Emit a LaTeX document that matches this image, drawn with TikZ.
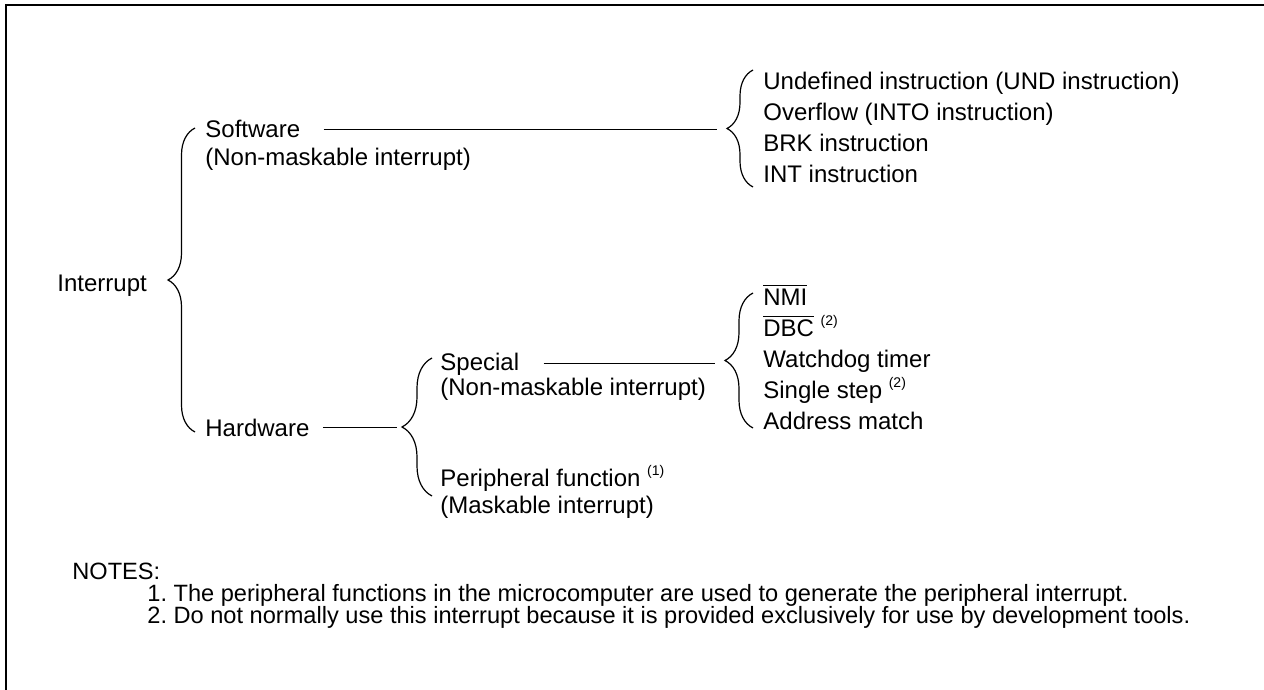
\documentclass[tikz,border=0pt]{standalone}
\usepackage{fontspec}
\setmainfont{Liberation Sans}
\usetikzlibrary{
  positioning,
  calc,
  decorations.pathreplacing
}
\newcommand{\barred}[1]{$\overline{\mbox{#1}}$}
\newcommand{\noteref}[1]{\ \raisebox{0.8ex}{\fontsize{7}{7}\selectfont(#1)}}
\tikzset{
  txt/.style={anchor=base west, inner sep=0pt, font=\fontsize{12}{15}\selectfont},
  notetxt/.style={anchor=base west, inner sep=0pt, font=\fontsize{11.8}{14}\selectfont},
  brc/.style={decorate, decoration={brace, amplitude=#1}, line width=0.6pt},
  link/.style={line width=0.6pt},
  frameline/.style={line width=1.4pt},
}

\begin{document}
\begin{tikzpicture}[x=0.5pt, y=-0.5pt]
  \useasboundingbox (0,0) rectangle (1264,690);
  \draw[frameline] (6,690) -- (6,5) -- (1264,5);

  %% ── Root ──────────────────────────────────────────────────────────────────
  \node[txt] (intr) at (57,291) {Interrupt};
  \coordinate (roottop) at (195,128);
  \coordinate (rootbot) at (195,432);
  \draw[brc=13.5pt] (rootbot) -- (roottop);

  %% ── Software branch ───────────────────────────────────────────────────────
  \node[txt] (sw)   at (205,138) {Software};
  \node[txt] (swnm) at (205,165) {(Non-maskable interrupt)};
  \coordinate (swtop) at (753,70);
  \coordinate (swbot) at (753,187);
  \coordinate (swtip) at ($(swtop)!0.5!(swbot)+(-26,0)$);
  \draw[brc=13pt] (swbot) -- (swtop);
  \foreach \t [count=\i] in {Undefined instruction (UND instruction),
      Overflow (INTO instruction), BRK instruction, INT instruction}
    \node[txt] (swi\i) at (763,{59+31*\i}) {\t};

  %% ── Hardware branch ───────────────────────────────────────────────────────
  \node[txt] (hw) at (205,436) {Hardware};
  \coordinate (hwtop) at (432,358);
  \coordinate (hwbot) at (432,496);
  \coordinate (hwtip) at ($(hwtop)!0.5!(hwbot)+(-30,0)$);
  \draw[brc=15pt] (hwbot) -- (hwtop);

  \node[txt] (sp)    at (440,370) {Special};
  \node[txt] (spnm)  at (440,395) {(Non-maskable interrupt)};
  \node[txt] (per)   at (440,486) {Peripheral function\noteref{1}};
  \node[txt] (pernm) at (440,513) {(Maskable interrupt)};

  \coordinate (sptop) at (753,293);
  \coordinate (spbot) at (753,428);
  \coordinate (sptip) at ($(sptop)!0.5!(spbot)+(-28,0)$);
  \draw[brc=14pt] (spbot) -- (sptop);
  \foreach \t [count=\i] in {\barred{NMI}, \barred{DBC}\noteref{2},
      Watchdog timer, Single step\noteref{2}, Address match}
    \node[txt] (spi\i) at (763,{274+31*\i}) {\t};

  %% ── Connectors ────────────────────────────────────────────────────────────
  \draw[link] ([xshift=11.5pt]sw.east) -- ([xshift=-5pt]sw.east -| swtip);
  \draw[link] ([xshift=6.5pt]hw.east)  -- ([xshift=-2.5pt]hw.east -| hwtip);
  \draw[link] ([xshift=12pt]sp.east)   -- ([xshift=-5pt]sp.east -| sptip);

  %% ── Notes ─────────────────────────────────────────────────────────────────
  \node[notetxt] (notes) at (72,579) {NOTES:};
  \node[notetxt] (note1) at (147,601)
    {1.\ The peripheral functions in the microcomputer are used to generate the peripheral interrupt.};
  \node[notetxt] (note2) at (147,623)
    {2.\ Do not normally use this interrupt because it is provided exclusively for use by development tools.};

\end{tikzpicture}
\end{document}
